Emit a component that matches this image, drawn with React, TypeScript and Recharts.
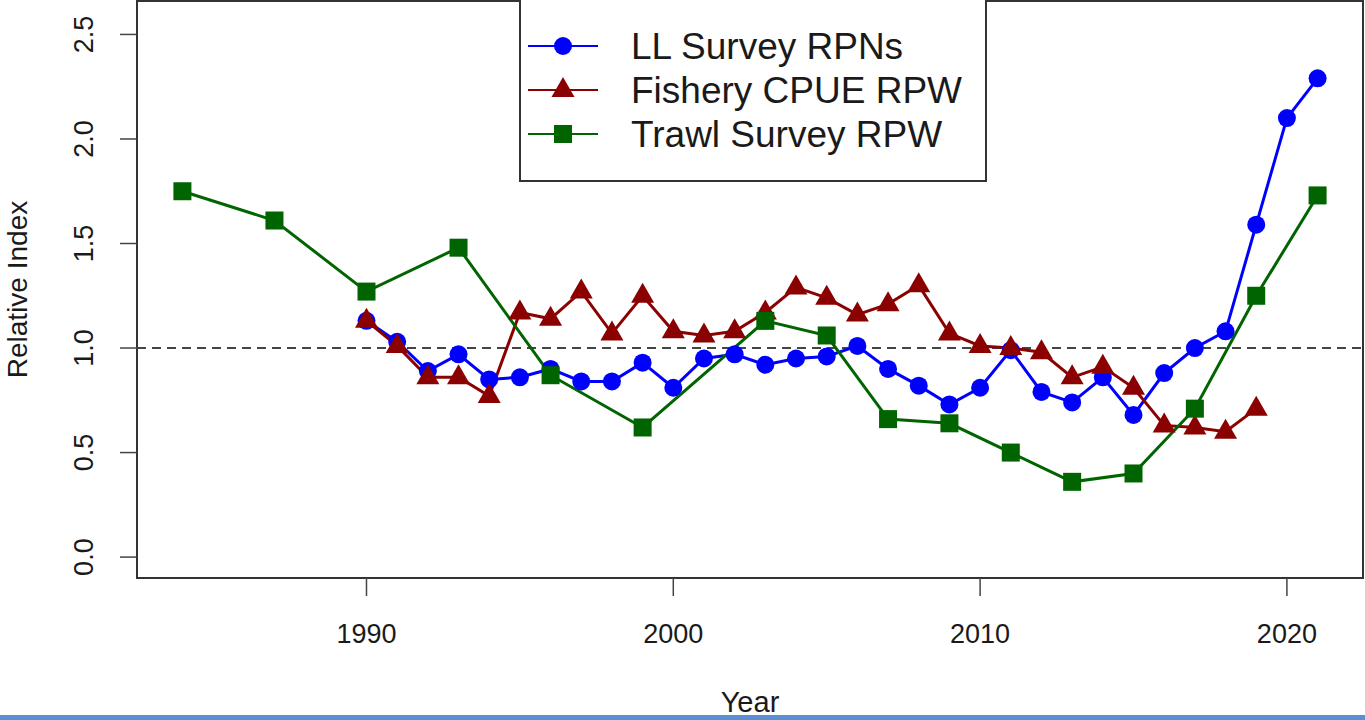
import React from "react";
import { LineChart, Line, XAxis, YAxis, ReferenceLine, ReferenceArea } from "recharts";

// years and values
const llYears = [1990, 1991, 1992, 1993, 1994, 1995, 1996, 1997, 1998, 1999, 2000, 2001, 2002, 2003, 2004, 2005, 2006, 2007, 2008, 2009, 2010, 2011, 2012, 2013, 2014, 2015, 2016, 2017, 2018, 2019, 2020, 2021];
const llValues = [1.13, 1.03, 0.89, 0.97, 0.85, 0.86, 0.9, 0.84, 0.84, 0.93, 0.81, 0.95, 0.97, 0.92, 0.95, 0.96, 1.01, 0.9, 0.82, 0.73, 0.81, 0.99, 0.79, 0.74, 0.86, 0.68, 0.88, 1.0, 1.08, 1.59, 2.1, 2.29];

const cpueYears = [1990, 1991, 1992, 1993, 1994, 1995, 1996, 1997, 1998, 1999, 2000, 2001, 2002, 2003, 2004, 2005, 2006, 2007, 2008, 2009, 2010, 2011, 2012, 2013, 2014, 2015, 2016, 2017, 2018, 2019];
const cpueValues = [1.13, 1.01, 0.86, 0.86, 0.77, 1.17, 1.14, 1.27, 1.07, 1.25, 1.08, 1.06, 1.08, 1.17, 1.29, 1.24, 1.16, 1.21, 1.3, 1.07, 1.01, 1.0, 0.98, 0.86, 0.91, 0.81, 0.63, 0.62, 0.6, 0.71];

const trawlYears = [1984, 1987, 1990, 1993, 1996, 1999, 2003, 2005, 2007, 2009, 2011, 2013, 2015, 2017, 2019, 2021];
const trawlValues = [1.75, 1.61, 1.27, 1.48, 0.87, 0.62, 1.13, 1.06, 0.66, 0.64, 0.5, 0.36, 0.4, 0.71, 1.25, 1.73];

const xTicks = [1990, 2000, 2010, 2020];
const yTicks = [0, 0.5, 1, 1.5, 2, 2.5];

const seriesNames = ["LL Survey RPNs", "Fishery CPUE RPW", "Trawl Survey RPW"];

const X_DOMAIN: [number, number] = [1982.52, 2022.48];
const Y_DOMAIN: [number, number] = [-0.1, 2.66];

const BLUE = "#0000ff";
const RED = "#8b0000";
const GREEN = "#006400";
const FONT = "'Liberation Sans', Arial, sans-serif";

const toPoints = (years: number[], values: number[]) => years.map((year, i) => ({ year, v: values[i] }));

const llData = toPoints(llYears, llValues);
const cpueData = toPoints(cpueYears, cpueValues);
const trawlData = toPoints(trawlYears, trawlValues);

function Circle({ cx, cy, color }: { cx: number; cy: number; color: string }) {
  return <circle cx={cx} cy={cy} r={9} fill={color} />;
}

function Triangle({ cx, cy, color }: { cx: number; cy: number; color: string }) {
  return <polygon points={`${cx},${cy - 13} ${cx - 11.5},${cy + 7} ${cx + 11.5},${cy + 7}`} fill={color} />;
}

function Square({ cx, cy, color }: { cx: number; cy: number; color: string }) {
  return <rect x={cx - 9} y={cy - 9} width={18} height={18} fill={color} />;
}

const dotFor = (Shape: typeof Circle, color: string) => (p: any) => (
  <Shape key={`d-${p.index}`} cx={p.cx} cy={p.cy} color={color} />
);

// legend drawn as an overlay, R-style boxed key
function LegendBox() {
  const rows = [
    { name: seriesNames[0], color: BLUE, Shape: Circle },
    { name: seriesNames[1], color: RED, Shape: Triangle },
    { name: seriesNames[2], color: GREEN, Shape: Square },
  ];
  return (
    <svg width={470} height={186} style={{ position: "absolute", left: 519, top: -1, display: "block" }}>
      <rect x={1} y={-4} width={466} height={186} fill="#fff" stroke="#333" strokeWidth={2} />
      {rows.map((r, i) => {
        const y = 47 + i * 44;
        return (
          <g key={r.name}>
            <line x1={9} x2={79} y1={y} y2={y} stroke={r.color} strokeWidth={2} />
            <r.Shape cx={44} cy={y} color={r.color} />
            <text x={112} y={y + 13} fontSize={37} fill="#1a1a1a" fontFamily={FONT}>
              {r.name}
            </text>
          </g>
        );
      })}
    </svg>
  );
}

function YTick({ y, payload }: any) {
  return (
    <text
      x={93}
      y={y}
      transform={`rotate(-90 93 ${y})`}
      textAnchor="middle"
      fontSize={27}
      fill="#1a1a1a"
      fontFamily={FONT}
    >
      {payload.value.toFixed(1)}
    </text>
  );
}

function XTick({ x, payload }: any) {
  return (
    <text x={x} y={643} textAnchor="middle" fontSize={27} fill="#1a1a1a" fontFamily={FONT}>
      {payload.value}
    </text>
  );
}

export default function App() {
  return (
    <div style={{ position: "absolute", left: 0, top: 0, width: 1365, height: 720, background: "#fff", overflow: "hidden", fontFamily: FONT }}>
      <LineChart width={1365} height={720} margin={{ top: 1, right: 2, left: 77, bottom: 82 }}>
        <XAxis
          dataKey="year"
          type="number"
          domain={X_DOMAIN}
          ticks={xTicks}
          allowDataOverflow
          height={60}
          axisLine={false}
          tickSize={18}
          tickLine={{ stroke: "#444", strokeWidth: 1.5 }}
          tick={<XTick />}
          label={{
            content: (props: any) => {
              const vb = props.viewBox;
              return (
                <text x={vb.x + vb.width / 2} y={712} textAnchor="middle" fontSize={29} fill="#1a1a1a" fontFamily={FONT}>
                  Year
                </text>
              );
            },
          }}
        />
        <YAxis
          type="number"
          domain={Y_DOMAIN}
          ticks={yTicks}
          allowDataOverflow
          width={60}
          axisLine={false}
          tickSize={17}
          tickLine={{ stroke: "#444", strokeWidth: 1.5 }}
          tick={<YTick />}
          label={{
            content: (props: any) => {
              const vb = props.viewBox;
              const cy = vb.y + vb.height / 2;
              return (
                <text x={27} y={cy} transform={`rotate(-90 27 ${cy})`} textAnchor="middle" fontSize={28} fill="#1a1a1a" fontFamily={FONT}>
                  Relative Index
                </text>
              );
            },
          }}
        />
        <ReferenceLine y={1} stroke="#444" strokeWidth={2} strokeDasharray="9 6" />
        <Line
          data={llData}
          dataKey="v"
          name={seriesNames[0]}
          stroke={BLUE}
          strokeWidth={3}
          dot={dotFor(Circle, BLUE)}
          activeDot={false}
          isAnimationActive={false}
        />
        <Line
          data={cpueData}
          dataKey="v"
          name={seriesNames[1]}
          stroke={RED}
          strokeWidth={3}
          dot={dotFor(Triangle, RED)}
          activeDot={false}
          isAnimationActive={false}
        />
        <Line
          data={trawlData}
          dataKey="v"
          name={seriesNames[2]}
          stroke={GREEN}
          strokeWidth={3}
          dot={dotFor(Square, GREEN)}
          activeDot={false}
          isAnimationActive={false}
        />
        <ReferenceArea
          x1={X_DOMAIN[0]}
          x2={X_DOMAIN[1]}
          y1={Y_DOMAIN[0]}
          y2={Y_DOMAIN[1]}
          fill="none"
          stroke="#333"
          strokeWidth={2}
          ifOverflow="visible"
        />
      </LineChart>
      <LegendBox />
      <div style={{ position: "absolute", left: 0, top: 715, width: 1365, height: 5, background: "#5a8fd4" }} />
    </div>
  );
}
